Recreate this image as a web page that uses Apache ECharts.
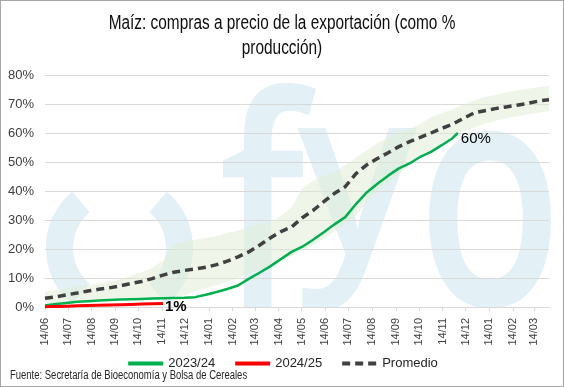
<!DOCTYPE html>
<html>
<head>
<meta charset="utf-8">
<script src="https://cdn.jsdelivr.net/npm/echarts@6/dist/echarts.min.js"></script>
<style>
html,body{margin:0;padding:0;background:#fff;}
#wrap{width:564px;height:387px;box-sizing:border-box;border:1px solid #a6a6a6;position:relative;overflow:hidden;}
#chart{position:absolute;left:-1px;top:-1px;width:564px;height:387px;}
</style>
</head>
<body>
<div id="wrap"><div id="chart"></div></div>
<script>
// ---- data (one point every 14 days from 14/06) ----
const startDate = '2023-06-14';
const totalDays = 658;
const stepDays = 14;

const green2324 = [0.5,1.0,1.4,1.8,2.0,2.2,2.4,2.6,2.7,2.8,2.9,3.0,3.1,3.2,3.4,4.2,5.2,6.2,7.4,9.7,11.8,14.0,16.5,19.0,20.8,23.2,25.8,28.5,31.0,35.5,39.5,42.5,45.3,47.8,49.5,51.8,53.5,55.8,58.2];
const greenLastDay = 539;
const greenLastValue = 60;

const red2425 = [0.1,0.2,0.3,0.4,0.5,0.6,0.7,0.8,0.9,1.0,1.1,1.2];

const promedio = [3.0,3.5,4.2,4.8,5.5,6.1,6.6,7.3,8.1,8.8,9.8,11.0,12.0,12.6,13.1,13.7,14.6,15.8,17.3,19.0,21.3,23.8,26.0,27.6,30.8,33.3,36.3,39.2,41.5,46.0,49.0,51.2,53.2,55.3,57.0,58.5,60.0,61.6,63.0,65.0,66.9,67.7,68.4,69.0,69.6,70.2,71.0,71.5];

const bandLow = [0.5,0.8,1.2,1.5,1.8,2.0,2.3,2.5,2.8,3.0,3.2,3.4,3.6,4.0,5.5,6.5,7.5,8.5,10.0,11.5,13.0,14.5,16.0,17.5,19.5,21.5,23.5,26.0,28.5,31.5,36.0,40.0,43.0,46.0,49.0,51.5,54.0,56.5,58.5,60.5,62.0,63.2,64.2,65.0,65.8,66.5,67.0,67.5];
const bandHigh = [5.3,5.8,6.5,7.0,7.5,8.0,8.8,9.5,10.8,12.0,13.5,16.0,21.5,22.5,23.2,23.8,24.5,25.5,26.5,27.5,28.5,29.0,31.5,34.5,41.0,43.5,45.2,46.5,49.0,51.5,54.0,56.5,58.5,60.2,61.5,63.0,65.5,66.8,68.2,69.8,71.2,72.3,73.2,74.0,74.7,75.3,75.8,76.2];

const yTicks = [0,10,20,30,40,50,60,70,80];
const labelDay = 14;

// ---- build daily categories ----
const cats = [];
(function(){
  const d0 = new Date(startDate + 'T12:00:00Z');
  for (let i = 0; i <= totalDays; i++) {
    const d = new Date(d0.getTime() + i * 86400000);
    cats.push(d.toISOString().slice(0,10));
  }
})();
const isLabelDay = (idx) => parseInt(cats[idx].slice(8,10),10) === labelDay;
const pairs = (arr) => arr.map((v,k) => [cats[k*stepDays], v]);
const greenData = pairs(green2324).concat([[cats[greenLastDay], greenLastValue]]);
const bandDiff = bandHigh.map((v,i) => +(v - bandLow[i]).toFixed(2));

const FONT = '"Liberation Sans", Arial, sans-serif';
const WM = '#e3f0f5';
const WMFONT = '600 318px "Open Sans", sans-serif';

const chart = echarts.init(document.getElementById('chart'), null, {renderer:'canvas'});
chart.setOption({
  animation: false,
  backgroundColor: '#ffffff',
  graphic: [
    // watermark logo (behind the plot, cut at the x axis)
    {type:'arc', z:-10, shape:{cx:119.5, cy:248, r:60, startAngle:Math.PI*0.722, endAngle:Math.PI*1.278}, style:{stroke:WM, lineWidth:27, fill:null}},
    {type:'arc', z:-10, shape:{cx:119.5, cy:248, r:60, startAngle:-Math.PI*0.278, endAngle:Math.PI*0.278}, style:{stroke:WM, lineWidth:27, fill:null}},
    {type:'text', z:-10, x:262, y:228, scaleX:0.75, scaleY:0.95, style:{text:'f', font:WMFONT, fill:WM, align:'center', verticalAlign:'middle'}},
    {type:'text', z:-10, x:357, y:188, scaleX:0.95, style:{text:'y', font:'600 234px "Open Sans", sans-serif', fill:WM, align:'center', verticalAlign:'middle'}},
    {type:'text', z:-10, x:490, y:215, scaleX:0.75, style:{text:'o', font:WMFONT, fill:WM, align:'center', verticalAlign:'middle'}},
    {type:'rect', z:-9, shape:{x:0, y:307.5, width:564, height:80}, style:{fill:'#ffffff'}},
    // title
    {type:'text', x:282, y:11, scaleX:0.77, style:{text:'Maíz: compras a precio de la exportación (como %\nproducción)', font:'20px ' + FONT, fill:'#0d0d0d', align:'center', verticalAlign:'top', lineHeight:25}},
    // source
    {type:'text', x:10, y:376, scaleX:0.79, style:{text:'Fuente: Secretaría de Bioeconomía y Bolsa de Cereales', font:'12px ' + FONT, fill:'#262626', align:'left', verticalAlign:'middle'}}
  ],
  legend: {
    data: ['2023/24','2024/25','Promedio'],
    left: 'center', top: 352,
    itemWidth: 35, itemHeight: 10, itemGap: 18,
    itemStyle: {opacity: 0},
    lineStyle: {width: 4},
    textStyle: {fontFamily: FONT, fontSize: 13, color: '#262626'}
  },
  grid: {left: 45, right: 15, top: 75, bottom: 80, containLabel: false},
  xAxis: {
    type: 'category', data: cats, boundaryGap: false,
    axisLine: {lineStyle: {color: '#d9d9d9', width: 1}},
    axisTick: {show: true, interval: (i) => isLabelDay(i), length: 4, lineStyle: {color: '#d9d9d9'}},
    axisLabel: {interval: (i) => isLabelDay(i), rotate: 90, margin: 11, fontFamily: FONT, fontSize: 11, color: '#404040',
      formatter: (v) => v.slice(8,10) + '/' + v.slice(5,7)},
    splitLine: {show: false}
  },
  yAxis: {
    type: 'value', min: yTicks[0], max: yTicks[yTicks.length-1], interval: 10,
    axisLine: {show: false}, axisTick: {show: false},
    axisLabel: {formatter: '{value}%', fontFamily: FONT, fontSize: 13, color: '#404040', margin: 11},
    splitLine: {lineStyle: {color: '#d9d9d9', width: 1}}
  },
  series: [
    {name: 'bandLow', type: 'line', stack: 'band', data: pairs(bandLow), symbol: 'none', lineStyle: {opacity: 0}, silent: true, z: 1},
    {name: 'bandRange', type: 'line', stack: 'band', data: pairs(bandDiff), symbol: 'none', lineStyle: {opacity: 0},
      areaStyle: {color: 'rgba(224,237,212,0.72)'}, silent: true, z: 1},
    {name: '2023/24', type: 'line', data: greenData, symbol: 'none', color: '#00b050',
      lineStyle: {color: '#00b050', width: 2.5}, z: 3,
      endLabel: {show: true, formatter: (p) => Math.round(p.value[1]) + '%', fontFamily: FONT, fontSize: 15, color: '#000', distance: 3, offset: [0, 6]}},
    {name: '2024/25', type: 'line', data: pairs(red2425), symbol: 'none', color: '#ff0000',
      lineStyle: {color: '#ff0000', width: 3}, z: 4,
      endLabel: {show: true, formatter: (p) => Math.round(p.value[1]) + '%', fontFamily: FONT, fontSize: 15, fontWeight: 'bold', color: '#000', distance: 2, offset: [0, 3]}},
    {name: 'Promedio', type: 'line', data: pairs(promedio), symbol: 'none', color: '#404040',
      lineStyle: {color: '#404040', width: 3.5, type: [8, 5], cap: 'butt'}, z: 5}
  ]
});
</script>
</body>
</html>
